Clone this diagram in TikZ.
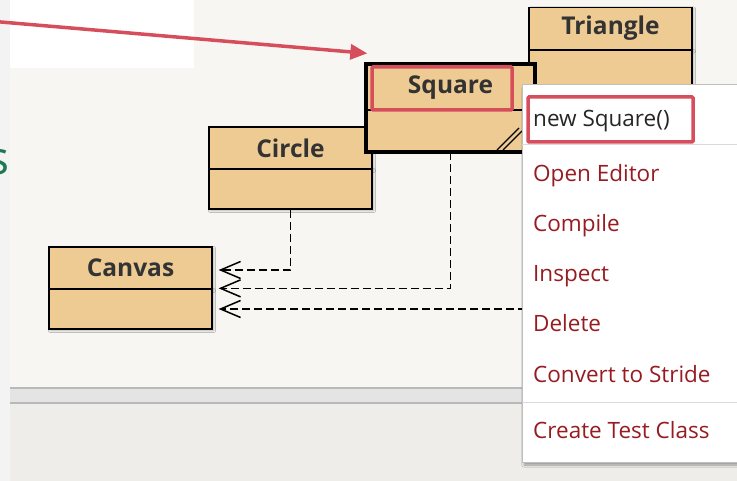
\documentclass[tikz,border=0pt]{standalone}
\usepackage{fontspec}
\setmainfont{Open Sans}
\usepackage{xcolor}
\usetikzlibrary{arrows.meta,shadows.blur}

\definecolor{classtan}{RGB}{239,203,148}
\definecolor{paneback}{RGB}{247,246,242}
\definecolor{lowback}{RGB}{238,237,233}
\definecolor{stripback}{RGB}{243,243,243}
\definecolor{bandgray}{RGB}{228,228,228}
\definecolor{markred}{RGB}{214,78,92}
\definecolor{itemred}{RGB}{150,28,34}
\definecolor{titlegreen}{RGB}{30,120,82}

\begin{document}
\begin{tikzpicture}[
      x=1pt, y=-1pt,
      classhead/.style={
        draw,
        line width=1.3pt,
        fill=classtan,
        minimum width=163pt,
        minimum height=42pt,
        inner sep=0pt,
        text=black!80,
        font=\fontsize{24.5}{27}\selectfont\bfseries
      },
      classbody/.style={classhead, minimum height=40pt},
      shadowed/.style={blur shadow={shadow xshift=1.5pt, shadow yshift=-1.5pt,
        shadow blur steps=4, shadow opacity=30}},
      dep/.style={
        line width=1.5pt,
        dash pattern=on 8pt off 4pt,
        shorten >=6pt,
        -{Straight Barb[length=20pt,width=17pt]}
      },
      redmark/.style={draw=markred, line width=3.5pt, rounded corners=1pt, inner sep=0pt},
      menuitem/.style={anchor=base west, inner sep=0pt, text=itemred,
        font=\fontsize{22.5}{25}\selectfont}
    ]
      \useasboundingbox (0,0) rectangle (737,481);
      \clip (0,0) rectangle (737,481);

      % Window background
      \fill[stripback] (0,0) rectangle (10,481);
      \fill[paneback] (10,0) rectangle (737,388);
      \fill[white] (10,0) rectangle (194,68);
      \fill[bandgray] (10,388) rectangle (737,403);
      \draw[gray!55, line width=1.5pt] (10,388) -- (737,388);
      \draw[gray!55, line width=1.5pt] (10,403) -- (737,403);
      \fill[lowback] (10,404) rectangle (737,481);
      \node[anchor=base east, inner sep=0pt, text=titlegreen,
        font=\fontsize{46}{50}\selectfont] (title) at (9.5,175) {s};

      % Classes
      \node[classhead, shadowed] (trihead) at (610.5,28.5) {Triangle};
      \node[classbody, shadowed, minimum height=43pt] (tribody) at (610.5,71.5) {};
      \node[classhead, shadowed] (cirhead) at (290.5,148) {Circle};
      \node[classbody, shadowed] (cirbody) at (290.5,189) {};
      \node[classhead, shadowed] (canhead) at (130.5,268) {Canvas};
      \node[classbody, shadowed] (canbody) at (130.5,309) {};
      \node[classhead, minimum width=167pt, minimum height=45pt] (sqhead) at (450.5,87.5) {Square};
      \node[classbody, minimum width=167pt, minimum height=41pt] (sqbody) at (450.5,130.5) {};
      \draw[line width=4pt] (sqhead.north west) rectangle (sqbody.south east);
      \draw[line width=1.2pt] (497,150) -- (519,128);
      \draw[line width=1.2pt] (503,150) -- (522,131);

      % Dependencies
      \draw[dep] (cirbody.south) |- ([yshift=-2pt]canhead.east);
      \draw[dep] (sqbody.south) |- (canbody.north east);
      \draw[dep] (tribody.south) |- (canbody.east);

      % Pointer to Square
      \coordinate (redstart) at (-5,21.5);
      \draw[markred, line width=3.5pt, -{Triangle[length=17pt,width=15pt]}]
        (redstart) -- ([shift={(1pt,11pt)}]sqhead.north west);
      \node[redmark, minimum width=140pt, minimum height=43pt] (sqmark) at (442,88.5) {};

      % Context menu
      \node[draw=gray!50, fill=white, line width=1pt, minimum width=223pt, minimum height=377pt,
        blur shadow={shadow xshift=2pt, shadow yshift=-3pt, shadow blur steps=6, shadow opacity=35}]
        (menu) at (633.5,273.5) {};
      \node[menuitem, text=black!85] (mnew) at (533,127) {new Square()};
      \draw[gray!30, line width=1pt] (522,145) -- (745,145);
      \node[menuitem] (medit) at (533,182) {Open Editor};
      \node[menuitem] (mcomp) at (533,232) {Compile};
      \node[menuitem] (minsp) at (533,282) {Inspect};
      \node[menuitem] (mdel) at (533,332) {Delete};
      \node[menuitem] (mconv) at (533,382) {Convert to Stride};
      \draw[gray!30, line width=1pt] (522,402) -- (745,402);
      \node[menuitem] (mtest) at (533,438) {Create Test Class};
      \node[redmark, minimum width=165pt, minimum height=45pt] (newmark) at (610.5,119.5) {};
    \end{tikzpicture}
\end{document}
